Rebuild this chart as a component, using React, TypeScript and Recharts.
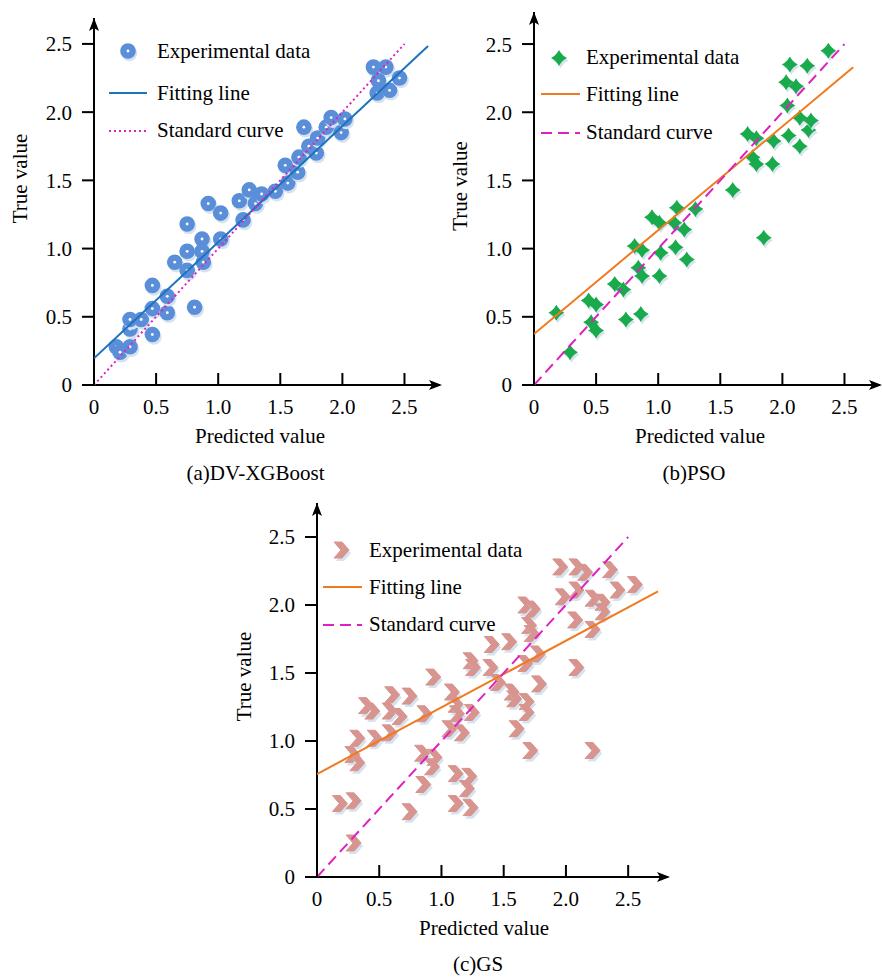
import React from 'react';
import { ScatterChart, Scatter, XAxis, YAxis, ReferenceDot } from 'recharts';

const FONT = '"Liberation Serif", "Times New Roman", Times, serif';
const FS = 21;

// ---------- data ----------
const tickValues = [0, 0.5, 1, 1.5, 2, 2.5];
const tickLabels = ['0', '0.5', '1.0', '1.5', '2.0', '2.5'];

const legendLabels = ['Experimental data', 'Fitting line', 'Standard curve'];
const axisTitleX = 'Predicted value';
const axisTitleY = 'True value';
const panelTitles = ['(a)DV-XGBoost', '(b)PSO', '(c)GS'];

const xgbPredicted = [0.18, 0.21, 0.29, 0.29, 0.29, 0.38, 0.47, 0.47, 0.47, 0.59, 0.59, 0.81, 0.65, 0.75, 0.75, 0.75, 0.87, 0.87, 0.88, 0.92, 1.02, 1.02, 1.17, 1.2, 1.25, 1.3, 1.35, 1.46, 1.54, 1.56, 1.64, 1.65, 1.69, 1.73, 1.79, 1.8, 1.87, 1.91, 1.99, 2.02, 2.25, 2.35, 2.29, 2.28, 2.38, 2.46];
const xgbTrue = [0.28, 0.24, 0.28, 0.41, 0.48, 0.48, 0.37, 0.56, 0.73, 0.53, 0.65, 0.57, 0.9, 0.84, 0.98, 1.18, 1.07, 0.98, 0.9, 1.33, 1.26, 1.07, 1.35, 1.21, 1.43, 1.33, 1.4, 1.42, 1.61, 1.48, 1.56, 1.67, 1.89, 1.75, 1.7, 1.81, 1.89, 1.96, 1.85, 1.95, 2.33, 2.33, 2.23, 2.14, 2.16, 2.25];
const xgbFitX = [0, 2.69];
const xgbFitY = [0.196, 2.485];

const psoPredicted = [0.18, 0.29, 0.44, 0.5, 0.46, 0.5, 0.65, 0.72, 0.74, 0.86, 0.81, 0.87, 0.84, 0.87, 0.95, 1.01, 1.02, 1.01, 1.15, 1.13, 1.21, 1.14, 1.23, 1.3, 1.6, 1.85, 1.72, 1.79, 1.76, 1.79, 1.93, 1.92, 2.05, 2.14, 2.14, 2.21, 2.23, 2.04, 2.03, 2.11, 2.06, 2.2, 2.37];
const psoTrue = [0.53, 0.24, 0.62, 0.59, 0.46, 0.4, 0.74, 0.7, 0.48, 0.52, 1.02, 0.99, 0.86, 0.8, 1.23, 1.19, 0.97, 0.8, 1.3, 1.19, 1.14, 1.01, 0.92, 1.29, 1.43, 1.08, 1.84, 1.81, 1.67, 1.62, 1.79, 1.62, 1.83, 1.75, 1.96, 1.87, 1.94, 2.05, 2.22, 2.19, 2.35, 2.34, 2.45];
const psoFitX = [0, 2.57];
const psoFitY = [0.374, 2.33];

const gsPredicted = [0.29, 0.18, 0.29, 0.74, 0.32, 0.28, 0.32, 0.46, 0.58, 0.39, 0.44, 0.6, 0.58, 0.66, 0.74, 0.86, 0.93, 0.84, 0.94, 0.92, 0.85, 1.08, 1.11, 1.12, 1.06, 1.16, 1.24, 1.11, 1.22, 1.2, 1.11, 1.23, 1.23, 1.25, 1.4, 1.54, 1.39, 1.45, 1.56, 1.58, 1.68, 1.68, 1.6, 1.71, 1.67, 1.77, 1.78, 1.67, 1.73, 1.7, 1.72, 2.08, 2.21, 1.95, 2.08, 2.15, 2.35, 1.97, 2.08, 2.21, 2.29, 2.29, 2.41, 2.55, 2.07, 2.21];
const gsTrue = [0.25, 0.54, 0.56, 0.48, 1.02, 0.9, 0.84, 1.02, 1.06, 1.26, 1.22, 1.34, 1.22, 1.18, 1.33, 1.2, 1.47, 0.91, 0.88, 0.81, 0.68, 1.36, 1.27, 1.2, 1.09, 1.06, 1.21, 0.76, 0.74, 0.65, 0.54, 0.51, 1.59, 1.54, 1.71, 1.73, 1.54, 1.43, 1.36, 1.31, 1.29, 1.21, 1.09, 0.93, 1.57, 1.64, 1.42, 2.0, 1.97, 1.85, 1.79, 1.54, 0.93, 2.28, 2.28, 2.24, 2.26, 2.06, 2.11, 2.05, 2.02, 1.95, 2.11, 2.15, 1.89, 1.82];
const gsFitX = [0, 2.74];
const gsFitY = [0.757, 2.1];

const standardX = [0, 2.5];
const standardY = [0, 2.5];

// ---------- helpers ----------
const zip = (xs: number[], ys: number[]) => xs.map((x, i) => ({ x, y: ys[i] }));

const BLUE_MARK = '#5A8ED8';
const BLUE_LINE = '#1C73BE';
const GREEN = '#19AA4C';
const PINK = '#D8948E';
const ORANGE = '#F07A1F';
const MAGENTA = '#DD22C0';
const SHADOW = '#D5E3F1';

function starPath(cx: number, cy: number, R: number) {
  const k = R * 0.34;
  return `M${cx},${cy - R} Q${cx + k},${cy - k} ${cx + R},${cy} Q${cx + k},${cy + k} ${cx},${cy + R} Q${cx - k},${cy + k} ${cx - R},${cy} Q${cx - k},${cy - k} ${cx},${cy - R} Z`;
}
function chevronPath(cx: number, cy: number) {
  return `M${cx - 7},${cy - 8} L${cx + 1},${cy - 8} L${cx + 8},${cy} L${cx + 1},${cy + 8} L${cx - 7},${cy + 8} L${cx},${cy} Z`;
}

const CircleMark = ({ cx, cy }: any) => (
  <g>
    <circle cx={cx + 1.5} cy={cy + 2.5} r={7.8} fill={SHADOW} />
    <circle cx={cx} cy={cy} r={7.8} fill={BLUE_MARK} />
    <circle cx={cx} cy={cy} r={1.4} fill="#fff" />
  </g>
);
const StarMark = ({ cx, cy }: any) => (
  <g>
    <path d={starPath(cx + 1.5, cy + 2.5, 8)} fill={SHADOW} />
    <path d={starPath(cx, cy, 8)} fill={GREEN} />
  </g>
);
const ChevronMark = ({ cx, cy }: any) => (
  <g>
    <path d={chevronPath(cx + 2, cy + 3)} fill={SHADOW} />
    <path d={chevronPath(cx, cy)} fill={PINK} stroke={PINK} strokeWidth={1} strokeLinejoin="round" />
  </g>
);
const NoMark = () => <g />;

const XTick = (props: any) => {
  const { x, y, payload } = props;
  const i = tickValues.indexOf(payload.value);
  return (
    <g>
      <line x1={x} x2={x} y1={y} y2={y - 12} stroke="#000" strokeWidth={2} />
      <text x={x} y={y + 29} textAnchor="middle" fontFamily={FONT} fontSize={FS} fill="#000">
        {tickLabels[i]}
      </text>
    </g>
  );
};

const ArrowRight = (p: any) => (
  <path d={`M${p.cx + 2},${p.cy} L${p.cx - 11},${p.cy - 5} L${p.cx - 8},${p.cy} L${p.cx - 11},${p.cy + 5} Z`} fill="#000" />
);
const ArrowUp = (p: any) => (
  <path d={`M${p.cx},${p.cy} L${p.cx - 5},${p.cy + 13} L${p.cx},${p.cy + 10} L${p.cx + 5},${p.cy + 13} Z`} fill="#000" />
);

type PanelProps = {
  left: number;
  top: number;
  width: number;
  height: number;
  marginTop: number;
  marginRight: number;
  xMax: number;
  yMax: number;
  points: { x: number; y: number }[];
  fit: { x: number; y: number }[];
  fitColor: string;
  stdDash: string;
  Mark: any;
};

function Panel(p: PanelProps) {
  return (
    <div style={{ position: 'absolute', left: p.left, top: p.top }}>
      <ScatterChart
        width={p.width}
        height={p.height}
        margin={{ top: p.marginTop, right: p.marginRight, bottom: 0, left: 0 }}
      >
        <XAxis
          type="number"
          dataKey="x"
          domain={[0, p.xMax]}
          ticks={tickValues}
          tick={<XTick />}
          tickLine={false}
          tickSize={0}
          tickMargin={0}
          height={35}
          axisLine={{ stroke: '#000', strokeWidth: 2 }}
          allowDataOverflow
          interval={0}
        />
        <YAxis
          type="number"
          dataKey="y"
          domain={[0, p.yMax]}
          ticks={tickValues}
          tickFormatter={(v: number) => tickLabels[tickValues.indexOf(v)]}
          tickSize={12}
          tickMargin={10}
          width={94}
          axisLine={{ stroke: '#000', strokeWidth: 2 }}
          tickLine={{ stroke: '#000', strokeWidth: 2 }}
          tick={{ fill: '#000', fontSize: FS, fontFamily: FONT }}
          allowDataOverflow
          interval={0}
        />
        <Scatter data={p.points} shape={p.Mark} isAnimationActive={false} />
        <Scatter
          data={p.fit}
          shape={NoMark}
          line={{ stroke: p.fitColor, strokeWidth: 2 }}
          isAnimationActive={false}
        />
        <Scatter
          data={zip(standardX, standardY)}
          shape={NoMark}
          line={{ stroke: MAGENTA, strokeWidth: 2, strokeDasharray: p.stdDash }}
          isAnimationActive={false}
        />
        <ReferenceDot x={p.xMax} y={0} r={1} ifOverflow="visible" shape={ArrowRight} />
        <ReferenceDot x={0} y={p.yMax} r={1} ifOverflow="visible" shape={ArrowUp} />
      </ScatterChart>
    </div>
  );
}

const txt = { fontFamily: FONT, fontSize: FS, fill: '#000' } as const;

function Legend({ x0, lineX1, lineX2, rows, markX, markY, Mark, fitColor, stdDash }: any) {
  return (
    <g>
      <Mark cx={markX} cy={markY} />
      <text x={x0} y={rows[0]} {...txt}>{legendLabels[0]}</text>
      <line x1={lineX1} x2={lineX2} y1={rows[1] - 7} y2={rows[1] - 7} stroke={fitColor} strokeWidth={2} />
      <text x={x0} y={rows[1]} {...txt}>{legendLabels[1]}</text>
      <line x1={lineX1} x2={lineX2} y1={rows[2] - 6} y2={rows[2] - 6} stroke={MAGENTA} strokeWidth={2} strokeDasharray={stdDash} />
      <text x={x0} y={rows[2]} {...txt}>{legendLabels[2]}</text>
    </g>
  );
}

export default function App() {
  return (
    <div style={{ position: 'absolute', left: 0, top: 0, width: 882, height: 979, background: '#fff', overflow: 'hidden' }}>
      <Panel
        left={0}
        top={0}
        width={460}
        height={420}
        marginTop={18}
        marginRight={20}
        xMax={2.786}
        yMax={2.69}
        points={zip(xgbPredicted, xgbTrue)}
        fit={zip(xgbFitX, xgbFitY)}
        fitColor={BLUE_LINE}
        stdDash="2 3"
        Mark={CircleMark}
      />
      <Panel
        left={440}
        top={0}
        width={442}
        height={420}
        marginTop={12}
        marginRight={2}
        xMax={2.786}
        yMax={2.735}
        points={zip(psoPredicted, psoTrue)}
        fit={zip(psoFitX, psoFitY)}
        fitColor={ORANGE}
        stdDash="11 6"
        Mark={StarMark}
      />
      <Panel
        left={223}
        top={483}
        width={465}
        height={429}
        marginTop={20}
        marginRight={20}
        xMax={2.82}
        yMax={2.75}
        points={zip(gsPredicted, gsTrue)}
        fit={zip(gsFitX, gsFitY)}
        fitColor={ORANGE}
        stdDash="11 6"
        Mark={ChevronMark}
      />
      <svg
        width={882}
        height={979}
        style={{ position: 'absolute', left: 0, top: 0, pointerEvents: 'none' }}
      >
        <Legend x0={157} lineX1={109} lineX2={147} rows={[57.5, 100, 137]} markX={128} markY={51} Mark={CircleMark} fitColor={BLUE_LINE} stdDash="2 3" />
        <Legend x0={586} lineX1={541} lineX2={580} rows={[64, 101, 139]} markX={559} markY={58} Mark={StarMark} fitColor={ORANGE} stdDash="11 6" />
        <Legend x0={369} lineX1={323} lineX2={362} rows={[557, 594, 631]} markX={341} markY={550} Mark={ChevronMark} fitColor={ORANGE} stdDash="11 6" />

        <text x={260} y={443} textAnchor="middle" {...txt}>{axisTitleX}</text>
        <text x={700} y={443} textAnchor="middle" {...txt}>{axisTitleX}</text>
        <text x={484} y={935} textAnchor="middle" {...txt}>{axisTitleX}</text>

        <text transform="translate(26.5,178.5) rotate(-90)" textAnchor="middle" {...txt}>{axisTitleY}</text>
        <text transform="translate(466.5,186) rotate(-90)" textAnchor="middle" {...txt}>{axisTitleY}</text>
        <text transform="translate(250.5,676.5) rotate(-90)" textAnchor="middle" {...txt}>{axisTitleY}</text>

        <text x={255.5} y={480} textAnchor="middle" {...txt}>{panelTitles[0]}</text>
        <text x={694} y={479.5} textAnchor="middle" {...txt}>{panelTitles[1]}</text>
        <text x={478} y={971} textAnchor="middle" {...txt}>{panelTitles[2]}</text>
      </svg>
    </div>
  );
}
